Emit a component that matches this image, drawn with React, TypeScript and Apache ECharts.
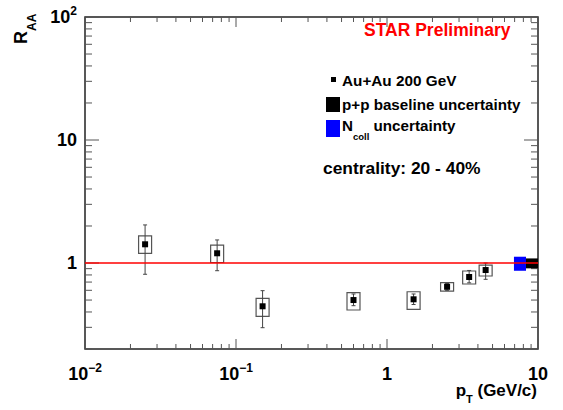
import React, { useEffect, useRef } from "react";
import * as echarts from "echarts";

// ---- data ----
const pT = [0.025, 0.075, 0.15, 0.6, 1.5, 2.5, 3.5, 4.5];
const raa = [1.42, 1.2, 0.445, 0.5, 0.507, 0.641, 0.77, 0.877];
const statLow = [0.81, 0.866, 0.298, 0.45, 0.46, 0.6, 0.69, 0.737];
const statHigh = [2.04, 1.54, 0.596, 0.56, 0.56, 0.68, 0.87, 1.0];
const sysLow = [1.2, 1.01, 0.369, 0.415, 0.42, 0.592, 0.675, 0.784];
const sysHigh = [1.66, 1.4, 0.516, 0.574, 0.584, 0.692, 0.861, 0.963];

// normalisation uncertainty boxes at R_AA = 1: [xLow, xHigh, yLow, yHigh]
const nCollBox = [6.93, 8.33, 0.865, 1.125];
const ppBox = [8.33, 10, 0.905, 1.09];

const refLine = [1, 1];

const X_MIN = 0.01;
const X_MAX = 10;
const Y_MIN = 0.2;
const Y_MAX = 100;

const FONT = "'Liberation Sans', Arial, Helvetica, sans-serif";

function buildTicks() {
  const out: number[][] = [];
  for (let e = -2; e <= 0; e++) {
    for (let m = 1; m <= 9; m++) {
      const v = m * Math.pow(10, e);
      out.push([v, 1, 0, m === 1 ? 1 : 0]);
    }
  }
  out.push([X_MAX, 1, 0, 1]);
  for (let e = -1; e <= 1; e++) {
    for (let m = 1; m <= 9; m++) {
      const v = m * Math.pow(10, e);
      if (v < Y_MIN - 1e-9) continue;
      out.push([1, v, 1, m === 1 ? 1 : 0]);
    }
  }
  out.push([1, Y_MAX, 1, 1]);
  return out;
}

const baseRich = {
  b: { fontSize: 18, fontWeight: "bold", fontFamily: FONT, color: "#000", lineHeight: 24, verticalAlign: "middle" },
  s: { fontSize: 12, fontWeight: "bold", fontFamily: FONT, color: "#000", lineHeight: 12, verticalAlign: "top" },
};

function expLabel(v: number) {
  const e = Math.round(Math.log10(v));
  if (e === 0) return "{b|1}";
  if (e === 1) return "{b|10}";
  if (e < 0) return "{b|10}{s|\u2212" + -e + "}";
  return "{b|10}{s|" + e + "}";
}

export default function App() {
  const ref = useRef<HTMLDivElement>(null);
  useEffect(() => {
    if (!ref.current) return;
    const chart = echarts.init(ref.current, undefined, { renderer: "svg" });
    const points = pT.map((x, i) => [x, raa[i], statLow[i], statHigh[i], sysLow[i], sysHigh[i]]);
    const option: any = {
      animation: false,
      backgroundColor: "#ffffff",
      grid: {
        left: 85,
        right: 25,
        top: 17,
        bottom: 61,
        show: true,
        borderColor: "#222",
        borderWidth: 1.5,
        backgroundColor: "transparent",
      },
      xAxis: {
        type: "log",
        logBase: 10,
        min: X_MIN,
        max: X_MAX,
        axisLine: { show: false },
        axisTick: { show: false },
        splitLine: { show: false },
        axisLabel: {
          margin: 13,
          formatter: (v: number) => expLabel(v),
          rich: baseRich,
        },
      },
      yAxis: {
        type: "log",
        logBase: 10,
        min: Y_MIN,
        max: Y_MAX,
        axisLine: { show: false },
        axisTick: { show: false },
        splitLine: { show: false },
        axisLabel: {
          margin: 8,
          showMinLabel: false,
          formatter: (v: number) => {
            const e = Math.log10(v);
            if (Math.abs(e - Math.round(e)) > 1e-6) return "";
            return expLabel(v);
          },
          rich: baseRich,
        },
      },
      series: [
        {
          type: "custom",
          coordinateSystem: "cartesian2d",
          silent: true,
          encode: { x: 0, y: 1 },
          data: buildTicks(),
          renderItem: (params: any, api: any) => {
            const cs = params.coordSys;
            const kind = api.value(2);
            const major = api.value(3);
            const st = { stroke: "#555", lineWidth: 1 };
            if (kind === 0) {
              const px = api.coord([api.value(0), 1])[0];
              const len = major ? 10 : 5;
              const b = cs.y + cs.height;
              return {
                type: "group",
                children: [
                  { type: "line", shape: { x1: px, y1: b, x2: px, y2: b - len }, style: st },
                  { type: "line", shape: { x1: px, y1: cs.y, x2: px, y2: cs.y + len }, style: st },
                ],
              };
            }
            const py = api.coord([1, api.value(1)])[1];
            const len = major ? 14 : 7;
            const r = cs.x + cs.width;
            return {
              type: "group",
              children: [
                { type: "line", shape: { x1: cs.x, y1: py, x2: cs.x + len, y2: py }, style: st },
                { type: "line", shape: { x1: r, y1: py, x2: r - len, y2: py }, style: st },
              ],
            };
          },
        },
        {
          type: "line",
          silent: true,
          symbol: "none",
          data: [
            [X_MIN, refLine[0]],
            [X_MAX, refLine[1]],
          ],
          lineStyle: { color: "#ff0000", width: 1.5 },
        },
        {
          type: "custom",
          coordinateSystem: "cartesian2d",
          silent: true,
          encode: { x: 0, y: 1 },
          data: points,
          renderItem: (params: any, api: any) => {
            const x = api.value(0);
            const [cx, cy] = api.coord([x, api.value(1)]);
            const sLo = api.coord([x, api.value(2)])[1];
            const sHi = api.coord([x, api.value(3)])[1];
            const bLo = api.coord([x, api.value(4)])[1];
            const bHi = api.coord([x, api.value(5)])[1];
            const bw = 13;
            const cap = 2;
            const m = 6;
            return {
              type: "group",
              children: [
                {
                  type: "rect",
                  shape: { x: cx - bw / 2, y: bHi, width: bw, height: bLo - bHi },
                  style: { fill: "none", stroke: "#555", lineWidth: 1.2 },
                },
                { type: "line", shape: { x1: cx, y1: sLo, x2: cx, y2: sHi }, style: { stroke: "#444", lineWidth: 1 } },
                { type: "line", shape: { x1: cx - cap, y1: sLo, x2: cx + cap, y2: sLo }, style: { stroke: "#444", lineWidth: 1 } },
                { type: "line", shape: { x1: cx - cap, y1: sHi, x2: cx + cap, y2: sHi }, style: { stroke: "#444", lineWidth: 1 } },
                { type: "rect", shape: { x: cx - m / 2, y: cy - m / 2, width: m, height: m }, style: { fill: "#000" } },
              ],
            };
          },
        },
        {
          type: "custom",
          coordinateSystem: "cartesian2d",
          silent: true,
          encode: { x: [0, 1], y: [2, 3] },
          data: [nCollBox, ppBox],
          renderItem: (params: any, api: any) => {
            const p1 = api.coord([api.value(0), api.value(3)]);
            const p2 = api.coord([api.value(1), api.value(2)]);
            return {
              type: "rect",
              shape: { x: p1[0], y: p1[1], width: p2[0] - p1[0], height: p2[1] - p1[1] },
              style: { fill: params.dataIndex === 0 ? "#0000ff" : "#000000" },
            };
          },
        },
      ],
      graphic: [
        {
          type: "text",
          x: 364,
          y: 30,
          style: { text: "STAR Preliminary", fill: "#ff0000", font: "bold 17.5px " + FONT, verticalAlign: "middle" },
        },
        { type: "rect", shape: { x: 331, y: 77, width: 5, height: 5 }, style: { fill: "#000" } },
        {
          type: "text",
          x: 342,
          y: 80,
          style: { text: "Au+Au 200 GeV", fill: "#000", font: "bold 15.3px " + FONT, verticalAlign: "middle" },
        },
        { type: "rect", shape: { x: 326, y: 97, width: 14, height: 15 }, style: { fill: "#000" } },
        {
          type: "text",
          x: 342,
          y: 104,
          style: { text: "p+p baseline uncertainty", fill: "#000", font: "bold 15.2px " + FONT, verticalAlign: "middle" },
        },
        { type: "rect", shape: { x: 326, y: 120, width: 14, height: 17 }, style: { fill: "#0000ff" } },
        {
          type: "text",
          x: 342,
          y: 118,
          style: {
            text: "{a|N}{s|coll}{a| uncertainty}",
            verticalAlign: "top",
            rich: {
              a: { fontSize: 15.2, fontWeight: "bold", fontFamily: FONT, color: "#000", lineHeight: 19, verticalAlign: "top" },
              s: { fontSize: 9.5, fontWeight: "bold", fontFamily: FONT, color: "#000", lineHeight: 10, padding: [13, 0, 0, 0], verticalAlign: "top" },
            },
          },
        },
        {
          type: "text",
          x: 323,
          y: 168,
          style: { text: "centrality: 20 - 40%", fill: "#000", font: "bold 17.4px " + FONT, verticalAlign: "middle" },
        },
        {
          type: "text",
          x: 537,
          y: 382,
          style: {
            text: "{a|p}{s|T}{a| (GeV/c)}",
            align: "right",
            verticalAlign: "top",
            rich: {
              a: { fontSize: 17, fontWeight: "bold", fontFamily: FONT, color: "#000", lineHeight: 14, verticalAlign: "top" },
              s: { fontSize: 11, fontWeight: "bold", fontFamily: FONT, color: "#000", lineHeight: 11, padding: [11, 0, 0, 0], verticalAlign: "top" },
            },
          },
        },
        {
          type: "text",
          x: 12,
          y: 44,
          rotation: Math.PI / 2,
          style: {
            text: "{a|R}{s|AA}",
            align: "left",
            verticalAlign: "top",
            rich: {
              a: { fontSize: 18, fontWeight: "bold", fontFamily: FONT, color: "#000", lineHeight: 22, verticalAlign: "top" },
              s: { fontSize: 12, fontWeight: "bold", fontFamily: FONT, color: "#000", lineHeight: 12, padding: [14, 0, 0, 0], verticalAlign: "top" },
            },
          },
        },
      ],
    };
    chart.setOption(option);
    return () => chart.dispose();
  }, []);
  return (
    <div
      ref={ref}
      style={{ position: "fixed", left: 0, top: 0, width: 563, height: 410, background: "#fff" }}
    />
  );
}
